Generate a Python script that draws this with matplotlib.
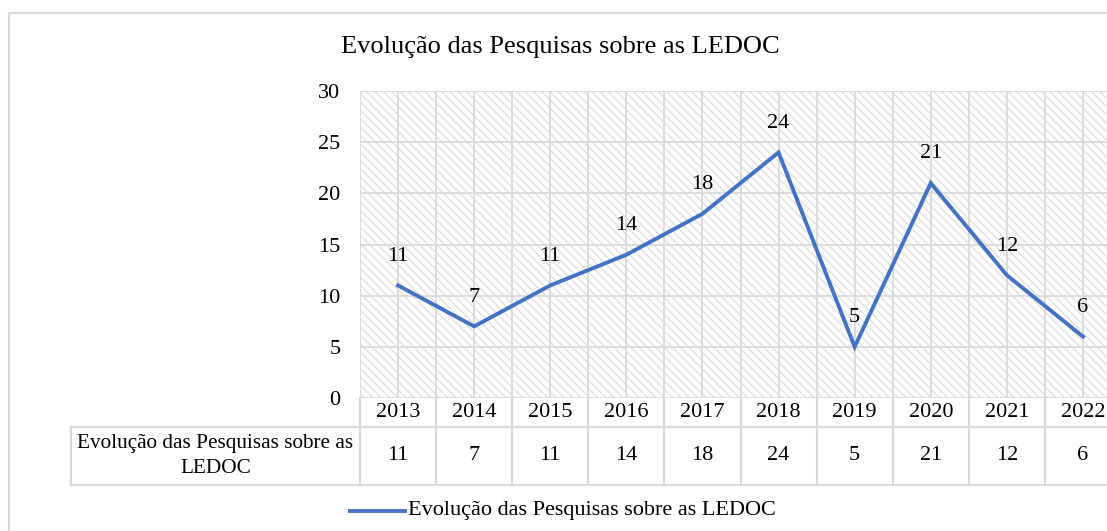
import matplotlib
matplotlib.use("Agg")
from matplotlib import pyplot as plt
from matplotlib.patches import Rectangle
from matplotlib.lines import Line2D
import matplotlib.transforms as mtransforms

years = ["2013", "2014", "2015", "2016", "2017", "2018", "2019", "2020", "2021", "2022"]
values = [11, 7, 11, 14, 18, 24, 5, 21, 12, 6]
series_name = "Evolução das Pesquisas sobre as LEDOC"
row_label = "Evolução das Pesquisas sobre as\nLEDOC"
title = "Evolução das Pesquisas sobre as LEDOC"

plt.rcParams['font.family'] = ['Liberation Serif', 'DejaVu Serif']
plt.rcParams['hatch.linewidth'] = 0.9

W, H = 1107, 531
fig = plt.figure(figsize=(W / 100, H / 100), dpi=100)

# chart frame (cut off on right/bottom like the source)
fig.add_artist(Rectangle((9 / W, -0.1), 1.2, (H - 13) / H + 0.1, transform=fig.transFigure,
                         fill=False, edgecolor='#d9d9d9', linewidth=1.5))

# plot area in pixels: left 360, top 91, bottom 398, column width 76.1
left, top, bottom, colw = 360, 91, 398, 76.1
n = len(years)
ax = fig.add_axes([left / W, (H - bottom) / H, n * colw / W, (bottom - top) / H])
ax.set_xlim(-0.5, n - 0.5)
ax.set_ylim(0, 30)

ax.add_patch(Rectangle((0, 0), 1, 1, transform=ax.transAxes, facecolor='white',
                       edgecolor='#dedede', hatch='\\\\\\\\', linewidth=0, zorder=0))

# gridlines
for yv in range(0, 31, 5):
    ax.axhline(yv, color='#d9d9d9', linewidth=1.3, zorder=1)
for k in range(2 * n + 1):
    ax.axvline(-0.5 + k * 0.5, color='#d9d9d9', linewidth=1.3, zorder=1)

xs = list(range(n))
ax.plot(xs, values, color='#4472C4', linewidth=2.8, solid_joinstyle='miter', zorder=3)
for x, v in zip(xs, values):
    ax.annotate(str(v), (x, v), xytext=(0, 21), textcoords='offset points',
                ha='center', va='center', fontsize=16)

for s in ax.spines.values():
    s.set_visible(False)
ax.set_xticks([])
ax.set_yticks(range(0, 31, 5))
ax.tick_params(axis='y', length=0, pad=14, labelsize=16)

# data table under the plot
tr = mtransforms.blended_transform_factory(ax.transData, ax.transAxes)
ph = bottom - top
y_year = -29 / ph
y_val = -87 / ph
x_lab = -0.5 - (left - 71) / colw
gc = '#d9d9d9'
lw = 1.5
def seg(x0, x1, y0, y1):
    ax.add_line(Line2D([x0, x1], [y0, y1], transform=tr, color=gc, linewidth=lw, clip_on=False))

seg(-0.5, n - 0.5, y_year, y_year)
seg(x_lab, n - 0.5, y_year, y_year)
seg(x_lab, n - 0.5, y_val, y_val)
seg(x_lab, x_lab, y_year, y_val)
for k in range(n + 1):
    seg(-0.5 + k, -0.5 + k, 0, y_val)
for x, yr, v in zip(xs, years, values):
    ax.text(x, y_year / 2, yr, transform=tr, ha='center', va='center', fontsize=16)
    ax.text(x, (y_year + y_val) / 2, str(v), transform=tr, ha='center', va='center', fontsize=16)
ax.text((x_lab - 0.5) / 2, (y_year + y_val) / 2, row_label, transform=tr, ha='center',
        va='center', fontsize=15.3, linespacing=1.4)

# title and legend
fig.text(560 / W, 1 - 47 / H, title, ha='center', va='center', fontsize=19)
fig.add_artist(Line2D([350 / W, 405 / W], [1 - 511 / H] * 2, transform=fig.transFigure,
                      color='#4472C4', linewidth=2.8))
fig.text(408 / W, 1 - 510 / H, series_name, ha='left', va='center', fontsize=16)

fig.savefig("out.png", dpi=100)
